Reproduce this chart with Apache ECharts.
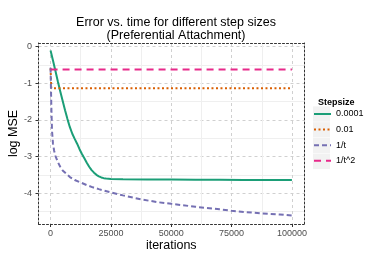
<!DOCTYPE html>
<html>
<head>
<meta charset="utf-8">
<script src="https://cdn.jsdelivr.net/npm/echarts@6/dist/echarts.min.js"></script>
<style>html,body{margin:0;padding:0;background:#fff}#c{width:388px;height:259px}</style>
</head>
<body>
<div id="c"></div>
<script>
var FONT = '"Liberation Sans", Arial, Helvetica, sans-serif';

var xTicks = [0, 25000, 50000, 75000, 100000];
var xMinor = [12500, 37500, 62500, 87500];
var yTicks = [0, -1, -2, -3, -4];
var yMinor = [-0.5, -1.5, -2.5, -3.5, -4.5];
var stepsizes = ['0.0001', '0.01', '1/t', '1/t^2'];

var t0001 = [0, 1000, 2000, 3000, 4000, 5000, 6000, 7000, 8000, 9000, 10000, 11000, 12000, 13000, 14000, 15000, 16000, 17000, 18000, 19000, 20000, 21000, 22000, 23000, 25000, 30000, 40000, 50000, 60000, 70000, 80000, 90000, 100000];
var v0001 = [-0.11, -0.38, -0.66, -0.95, -1.22, -1.48, -1.74, -1.98, -2.2, -2.38, -2.52, -2.65, -2.8, -2.93, -3.05, -3.17, -3.28, -3.37, -3.44, -3.5, -3.54, -3.57, -3.59, -3.6, -3.61, -3.62, -3.625, -3.63, -3.635, -3.635, -3.64, -3.64, -3.64];

var t001 = [0, 300, 600, 100000];
var v001 = [-0.6, -1.14, -1.14, -1.14];

var tInv = [0, 300, 600, 1000, 1500, 2000, 3000, 4000, 5000, 6500, 8000, 10000, 12500, 15000, 17500, 20000, 25000, 30000, 37500, 45000, 50000, 60000, 70000, 75000, 80000, 87500, 95000, 100000];
var vInv = [-0.58, -1.6, -2.3, -2.65, -2.85, -2.98, -3.15, -3.28, -3.38, -3.47, -3.56, -3.64, -3.71, -3.78, -3.84, -3.89, -3.98, -4.06, -4.17, -4.25, -4.29, -4.37, -4.44, -4.48, -4.51, -4.55, -4.58, -4.61];

var tInv2 = [0, 100000];
var vInv2 = [-0.63, -0.63];

function pairs(t, v) { return t.map(function (x, i) { return [x, v[i]]; }); }

var colors = ['#1b9e77', '#d95f02', '#7570b3', '#e7298a'];
var dashes = ['solid', [2, 2.5], [5, 3], [7, 5]];
var seriesData = [pairs(t0001, v0001), pairs(t001, v001), pairs(tInv, vInv), pairs(tInv2, vInv2)];

var chart = echarts.init(document.getElementById('c'), null, {renderer: 'canvas'});

var borderStyle = {color: '#333', width: 1, type: [2, 2]};

var series = stepsizes.map(function (name, i) {
  return {
    name: name, type: 'line', xAxisIndex: 0, yAxisIndex: 0,
    data: seriesData[i], symbol: 'none', smooth: false,
    lineStyle: {color: colors[i], width: 2, type: dashes[i]},
    itemStyle: {color: colors[i]},
    z: 10 + i, animation: false
  };
});

var legendTop = 108, legendGap = 3.6, legendStep = 15.8;
var keyRects = stepsizes.map(function (s, i) {
  return {type: 'rect', shape: {x: 313, y: 114.3 - 7.9 + i * legendStep, width: 17, height: 15.3},
          style: {fill: '#f2f2f2'}, z: -1};
});

chart.setOption({
  animation: false,
  backgroundColor: '#fff',
  title: [{
    text: 'Error vs. time for different step sizes\n(Preferential Attachment)',
    left: 171, top: 11.5, textAlign: 'center',
    textStyle: {fontFamily: FONT, fontSize: 12.5, fontWeight: 'normal', color: '#000', lineHeight: 13}
  }, {
    text: 'Stepsize', left: 313, top: 93,
    textStyle: {fontFamily: FONT, fontSize: 9, fontWeight: 'bold', color: '#000'}
  }],
  grid: {left: 38.5, right: 84, top: 43, bottom: 35, containLabel: false, outerBoundsMode: 'none'},
  legend: {
    orient: 'vertical', left: 313, top: legendTop, itemWidth: 17, itemHeight: 15, itemGap: legendGap,
    data: stepsizes, textStyle: {fontFamily: FONT, fontSize: 9, color: '#000'}, padding: 0, selectedMode: false,
    itemStyle: {opacity: 0}
  },
  graphic: keyRects,
  xAxis: [{
    type: 'value', min: -5000, max: 105000, position: 'bottom',
    name: 'iterations', nameLocation: 'middle', nameGap: 15.5, nameMoveOverlap: false,
    nameTextStyle: {fontFamily: FONT, fontSize: 12.5, color: '#000'},
    axisLine: {show: true, onZero: false, lineStyle: borderStyle},
    axisTick: {show: true, length: 3, customValues: xTicks, lineStyle: {color: '#333'}},
    axisLabel: {show: true, customValues: xTicks, margin: 5.5, fontFamily: FONT, fontSize: 9, color: '#4d4d4d',
      formatter: function (v) { return String(v); }},
    splitLine: {show: true, lineStyle: {color: '#d0d0d0', width: 1, type: [3, 3]}}
  }, {
    type: 'value', min: -5000, max: 105000, position: 'top',
    axisLine: {show: true, onZero: false, lineStyle: borderStyle},
    axisTick: {show: false, customValues: xMinor},
    axisLabel: {show: false, customValues: xMinor},
    splitLine: {show: true, lineStyle: {color: '#efefef', width: 1, type: 'solid'}}
  }],
  yAxis: [{
    type: 'value', min: -4.84, max: 0.095, position: 'left',
    name: 'log MSE', nameLocation: 'middle', nameGap: 18, nameRotate: 90, nameMoveOverlap: false,
    nameTextStyle: {fontFamily: FONT, fontSize: 12.5, color: '#000'},
    axisLine: {show: true, onZero: false, lineStyle: borderStyle},
    axisTick: {show: true, length: 3, customValues: yTicks, lineStyle: {color: '#333'}},
    axisLabel: {show: true, customValues: yTicks, margin: 6.5, fontFamily: FONT, fontSize: 9, color: '#4d4d4d'},
    splitLine: {show: true, lineStyle: {color: '#d0d0d0', width: 1, type: [3, 3]}}
  }, {
    type: 'value', min: -4.84, max: 0.095, position: 'right',
    axisLine: {show: true, onZero: false, lineStyle: borderStyle},
    axisTick: {show: false, customValues: yMinor},
    axisLabel: {show: false, customValues: yMinor},
    splitLine: {show: true, lineStyle: {color: '#efefef', width: 1, type: 'solid'}}
  }],
  series: series
});
</script>
</body>
</html>
